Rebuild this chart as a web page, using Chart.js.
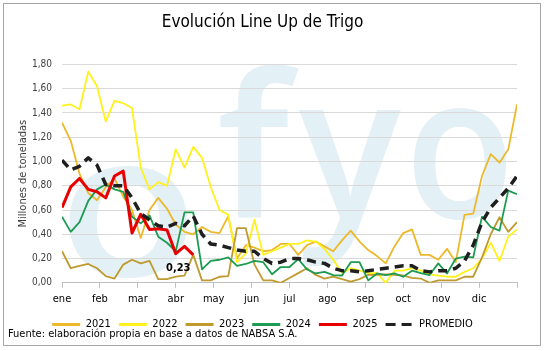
<!DOCTYPE html>
<html><head><meta charset="utf-8">
<script src="https://cdn.jsdelivr.net/npm/chart.js@4.4.1/dist/chart.umd.min.js"></script>
<style>html,body{margin:0;padding:0;background:#fff}canvas{display:block}</style>
</head><body>
<canvas id="c" width="544" height="351"></canvas>
<script>
const FONT = '"Liberation Sans Narrow","DejaVu Sans Condensed","Roboto",sans-serif';

const weeks = [0,1,2,3,4,5,6,7,8,9,10,11,12,13,14,15,16,17,18,19,20,21,22,23,24,25,26,27,28,29,30,31,32,33,34,35,36,37,38,39,40,41,42,43,44,45,46,47,48,49,50,51,52];
const monthLabels = ['ene','feb','mar','abr','may','jun','jul','ago','sep','oct','nov','dic',''];
const yTicks = [0,0.2,0.4,0.6,0.8,1.0,1.2,1.4,1.6,1.8];

const s2021 = [1.32,1.17,0.90,0.74,0.68,0.79,0.86,0.71,0.60,0.37,0.60,0.70,0.61,0.48,0.42,0.40,0.46,0.42,0.41,0.55,0.20,0.31,0.29,0.26,0.27,0.32,0.32,0.23,0.31,0.34,0.30,0.26,0.35,0.43,0.34,0.27,0.22,0.16,0.30,0.41,0.44,0.23,0.23,0.19,0.28,0.17,0.56,0.57,0.88,1.06,0.99,1.10,1.47];
const s2022 = [1.46,1.47,1.43,1.74,1.62,1.33,1.50,1.48,1.44,0.95,0.77,0.83,0.80,1.10,0.95,1.12,1.03,0.79,0.60,0.56,0.17,0.24,0.52,0.23,0.26,0.29,0.32,0.32,0.35,0.34,0.28,0.19,0.08,0.12,0.10,0.08,0.08,0.00,0.10,0.10,0.12,0.10,0.07,0.06,0.05,0.05,0.09,0.12,0.20,0.33,0.18,0.38,0.44];
const s2023 = [0.26,0.12,0.14,0.155,0.12,0.055,0.035,0.15,0.19,0.16,0.18,0.03,0.03,0.05,0.06,0.23,0.02,0.02,0.05,0.055,0.45,0.45,0.15,0.02,0.02,0.00,0.04,0.08,0.12,0.065,0.035,0.05,0.03,0.01,0.03,0.065,0.065,0.07,0.065,0.06,0.04,0.035,0.00,0.02,0.02,0.02,0.05,0.05,0.21,0.40,0.54,0.42,0.50];
const s2024 = [0.545,0.42,0.50,0.675,0.77,0.81,0.77,0.75,0.545,0.49,0.555,0.38,0.33,0.26,0.58,0.58,0.11,0.18,0.19,0.21,0.14,0.155,0.18,0.17,0.07,0.13,0.13,0.195,0.11,0.077,0.09,0.064,0.06,0.17,0.17,0.02,0.077,0.064,0.077,0.05,0.10,0.08,0.064,0.16,0.077,0.20,0.215,0.21,0.545,0.46,0.43,0.76,0.73];
const s2025 = [0.62,0.79,0.86,0.77,0.75,0.70,0.88,0.92,0.41,0.565,0.44,0.445,0.435,0.24,0.30,0.23];
const promedio = [1.01,0.93,0.96,1.03,0.97,0.81,0.80,0.80,0.70,0.57,0.52,0.47,0.46,0.49,0.47,0.55,0.40,0.32,0.31,0.29,0.27,0.26,0.26,0.20,0.16,0.17,0.20,0.20,0.19,0.17,0.16,0.12,0.10,0.10,0.09,0.10,0.11,0.12,0.13,0.14,0.14,0.10,0.09,0.10,0.10,0.12,0.18,0.31,0.50,0.62,0.70,0.78,0.88];

const monthPos = monthLabels.map((_, k) => k * 52 / 12);
const fmt = v => v.toFixed(2).replace('.', ',');

function glyph(ctx, ch, x, y, sx) {
  ctx.save();
  ctx.translate(x, y);
  ctx.scale(sx, 1);
  ctx.fillText(ch, 0, 0);
  ctx.restore();
}

const decor = {
  id: 'decor',
  beforeDraw(chart) {
    const {ctx, chartArea: a} = chart;
    ctx.save();
    ctx.beginPath();
    ctx.rect(a.left, a.top, a.right - a.left, a.bottom - a.top);
    ctx.clip();
    ctx.fillStyle = 'rgba(200,226,236,0.5)';
    ctx.font = '600 200px "Open Sans"';
    ctx.textBaseline = 'alphabetic';
    glyph(ctx, 'f', 217, 218, 1);
    glyph(ctx, 'y', 299, 218, 0.95);
    glyph(ctx, 'o', 405, 218, 0.9);
    glyph(ctx, 'o', 58, 276, 1.15);
    ctx.restore();
  },
  afterDraw(chart) {
    const {ctx} = chart;
    ctx.save();
    ctx.strokeStyle = '#a6a6a6';
    ctx.lineWidth = 1;
    ctx.strokeRect(3.5, 3.5, 537, 342);
    ctx.fillStyle = '#000';
    ctx.font = '11px ' + FONT;
    ctx.textBaseline = 'middle';
    ctx.fillText('Fuente: elaboración propia en base a datos de NABSA S.A.', 8, 334);
    const meta = chart.getDatasetMeta(4);
    const last = meta.data[meta.data.length - 1];
    ctx.font = 'bold 11px ' + FONT;
    ctx.textAlign = 'center';
    ctx.fillText(fmt(s2025[s2025.length - 1]), last.x - 15, last.y + 13);
    ctx.restore();
  }
};

const ds = (label, data, color, width, order, dash) => ({
  label, data, borderColor: color, backgroundColor: color, borderWidth: width,
  pointRadius: 0, tension: 0, fill: false, order, borderDash: dash || [],
  borderCapStyle: 'butt', borderJoinStyle: 'round'
});

new Chart(document.getElementById('c'), {
  type: 'line',
  data: {
    labels: weeks,
    datasets: [
      ds('2021', s2021, '#EDB92B', 1.8, 6),
      ds('2022', s2022, '#FFF21C', 1.8, 5),
      ds('2023', s2023, '#BF9A2E', 1.8, 4),
      ds('2024', s2024, '#1C9B52', 1.8, 3),
      ds('2025', s2025, '#E80000', 3, 2),
      ds('PROMEDIO', promedio, '#1f1f1f', 3.5, 1, [9, 6])
    ]
  },
  options: {
    responsive: false,
    animation: false,
    devicePixelRatio: 1,
    layout: {padding: {left: 8, right: 27, top: 0, bottom: 11}},
    plugins: {
      title: {
        display: true, text: 'Evolución Line Up de Trigo', color: '#000',
        font: {family: FONT, size: 17, weight: 'normal'},
        padding: {top: 12, bottom: 32}
      },
      legend: {
        position: 'bottom',
        labels: {
          font: {family: FONT, size: 11}, color: '#000',
          usePointStyle: true, pointStyle: 'line', pointStyleWidth: 28, boxHeight: 11,
          padding: 8,
          sort: (a, b) => a.datasetIndex - b.datasetIndex,
          generateLabels(chart) {
            const items = Chart.defaults.plugins.legend.labels.generateLabels(chart);
            items.forEach(it => {
              const d = chart.data.datasets[it.datasetIndex];
              it.lineWidth = 3;
              it.strokeStyle = d.borderColor;
              it.lineDash = d.borderDash && d.borderDash.length ? [10, 6] : [];
            });
            return items;
          }
        }
      },
      tooltip: {enabled: false}
    },
    scales: {
      x: {
        type: 'linear', min: 0, max: 52,
        afterBuildTicks(scale) { scale.ticks = monthPos.map(v => ({value: v})); },
        ticks: {
          autoSkip: false, maxRotation: 0, padding: 5, color: '#000',
          font: {family: FONT, size: 11},
          callback: (v, i) => monthLabels[i]
        },
        grid: {drawOnChartArea: false, drawTicks: true, tickLength: 5, color: '#bfbfbf'},
        border: {color: '#bfbfbf'}
      },
      y: {
        min: 0, max: 1.8,
        afterBuildTicks(scale) { scale.ticks = yTicks.map(v => ({value: v})); },
        afterFit(scale) { scale.width = 54; },
        ticks: {
          color: '#404040', padding: 10, font: {family: FONT, size: 10},
          callback: v => fmt(v)
        },
        grid: {color: '#d9d9d9', drawTicks: false},
        border: {display: false},
        title: {
          display: true, text: 'Millones de toneladas', color: '#404040',
          font: {family: FONT, size: 11}, padding: {top: 9, bottom: 4}
        }
      }
    }
  },
  plugins: [decor]
});
</script>
</body></html>
